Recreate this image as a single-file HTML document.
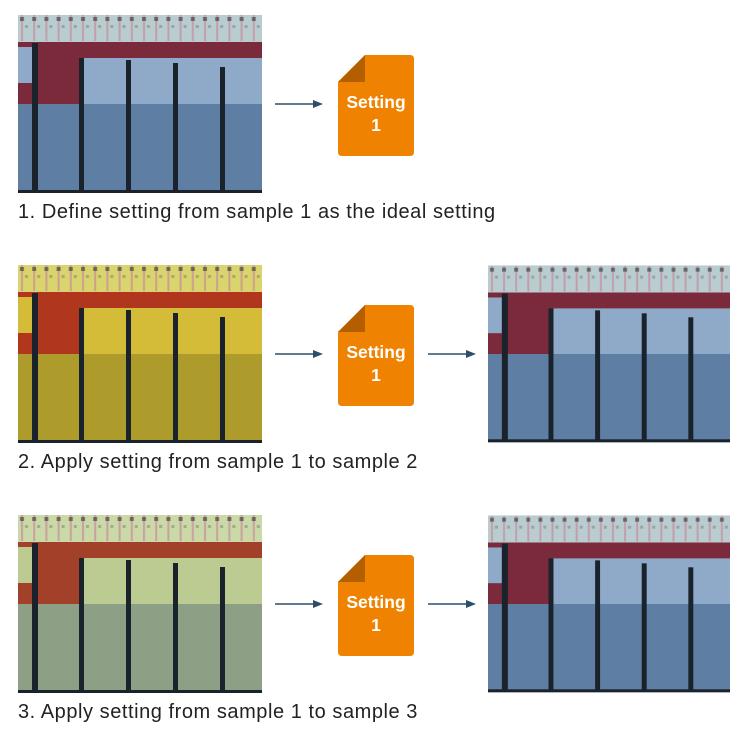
<!DOCTYPE html>
<html><head><meta charset="utf-8">
<style>
html,body{margin:0;padding:0;background:#fff;width:750px;height:741px;overflow:hidden;position:relative;font-family:"Liberation Sans","DejaVu Sans",sans-serif;}
.img{position:absolute;width:244px;height:178px;}
.cap{position:absolute;left:18px;font-size:20px;letter-spacing:0.55px;color:#222;white-space:nowrap;}
.arrow{position:absolute;width:48px;height:10px;}
.icon{position:absolute;width:76px;height:101px;}
</style></head><body>
<svg width="0" height="0" style="position:absolute">
<defs>
<pattern id="comb" x="0" y="0" width="12.2" height="28" patternUnits="userSpaceOnUse">
<rect x="3" y="0" width="2" height="26" fill="#c88a9a" opacity="0.7"/>
<rect x="2" y="2" width="4" height="4" fill="#333" opacity="0.6"/>
<rect x="7" y="10" width="3" height="3" fill="#666" opacity="0.4"/>
</pattern>
<symbol id="chip" viewBox="0 0 244 178">
<rect x="0" y="0" width="244" height="178" style="fill:var(--lo)"/>
<rect x="0" y="0" width="244" height="28" style="fill:var(--top)"/>
<rect x="0" y="0" width="244" height="28" fill="url(#comb)"/>
<rect x="0" y="27" width="244" height="62" style="fill:var(--red)"/>
<rect x="0" y="32" width="14" height="36" style="fill:var(--up)"/>
<rect x="66" y="43" width="178" height="46" style="fill:var(--up)"/>
<rect x="0" y="89" width="244" height="87" style="fill:var(--lo)"/>
<g fill="#1a222c">
<rect x="14" y="28" width="6" height="148"/>
<rect x="61" y="43" width="5" height="133"/>
<rect x="108" y="45" width="5" height="131"/>
<rect x="155" y="48" width="5" height="128"/>
<rect x="202" y="52" width="5" height="124"/>
<rect x="0" y="175" width="244" height="3"/>
</g>
</symbol>
<symbol id="arr" viewBox="0 0 48 10">
<line x1="0" y1="5" x2="40" y2="5" stroke="#2d4e6b" stroke-width="1.6"/>
<polygon points="38,1 48,5 38,9" fill="#2d4e6b"/>
</symbol>
<symbol id="doc" viewBox="0 0 76 101">
<path d="M27,0 H72 Q76,0 76,4 V97 Q76,101 72,101 H4 Q0,101 0,97 V27 Z" fill="#ef8200"/>
<path d="M27,0 V27 H0 Z" fill="#b35f00"/>
<text x="38" y="53" text-anchor="middle" font-family="Liberation Sans, sans-serif" font-weight="bold" font-size="17.5" fill="#fff">Setting</text>
<text x="38" y="76" text-anchor="middle" font-family="Liberation Sans, sans-serif" font-weight="bold" font-size="17.5" fill="#fff">1</text>
</symbol>
</defs>
</svg>

<!-- Row 1 -->
<svg class="img" style="left:18px;top:15px;--top:#b9ccd0;--red:#7a2a3b;--up:#8faac8;--lo:#5e7ea3"><use href="#chip"/></svg>
<svg class="arrow" style="left:275px;top:99px"><use href="#arr"/></svg>
<svg class="icon" style="left:338px;top:55px"><use href="#doc"/></svg>
<div class="cap" style="top:201px">1. Define setting from sample 1 as the ideal setting</div>

<!-- Row 2 -->
<svg class="img" style="left:18px;top:265px;--top:#d9d46e;--red:#b0361d;--up:#d5bc38;--lo:#ad9c2c"><use href="#chip"/></svg>
<svg class="arrow" style="left:275px;top:349px"><use href="#arr"/></svg>
<svg class="icon" style="left:338px;top:305px"><use href="#doc"/></svg>
<svg class="arrow" style="left:428px;top:349px"><use href="#arr"/></svg>
<svg class="img" style="left:488px;top:265px;width:242px;--top:#b9ccd0;--red:#7a2a3b;--up:#8faac8;--lo:#5e7ea3"><use href="#chip"/></svg>
<div class="cap" style="top:451px">2. Apply setting from sample 1 to sample 2</div>

<!-- Row 3 -->
<svg class="img" style="left:18px;top:515px;--top:#cbd8a8;--red:#a3402a;--up:#bccb92;--lo:#8d9f84"><use href="#chip"/></svg>
<svg class="arrow" style="left:275px;top:599px"><use href="#arr"/></svg>
<svg class="icon" style="left:338px;top:555px"><use href="#doc"/></svg>
<svg class="arrow" style="left:428px;top:599px"><use href="#arr"/></svg>
<svg class="img" style="left:488px;top:515px;width:242px;--top:#b9ccd0;--red:#7a2a3b;--up:#8faac8;--lo:#5e7ea3"><use href="#chip"/></svg>
<div class="cap" style="top:701px">3. Apply setting from sample 1 to sample 3</div>
</body></html>
